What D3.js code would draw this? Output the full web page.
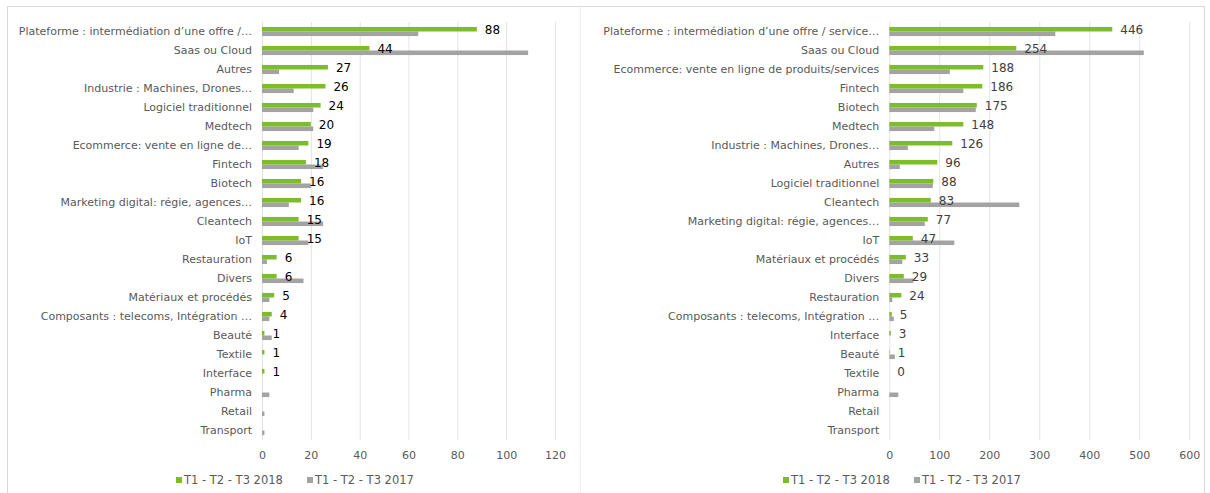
<!DOCTYPE html>
<html>
<head>
<meta charset="utf-8">
<script src="https://cdn.jsdelivr.net/npm/d3@7"></script>
<style>
  body { margin: 0; background: #fff; }
  svg text { font-family: "DejaVu Sans", Verdana, sans-serif; }
</style>
</head>
<body>
<svg id="chart" width="1210" height="493"></svg>
<script>
// left panel : counts
var catsLeft = ["Plateforme : intermédiation d’une offre /…", "Saas ou Cloud", "Autres",
  "Industrie : Machines, Drones…", "Logiciel traditionnel", "Medtech", "Ecommerce: vente en ligne de…",
  "Fintech", "Biotech", "Marketing digital: régie, agences…", "Cleantech", "IoT", "Restauration",
  "Divers", "Matériaux et procédés", "Composants : telecoms, Intégration …", "Beauté", "Textile",
  "Interface", "Pharma", "Retail", "Transport"]
var left2018 = [88, 44, 27, 26, 24, 20, 19, 18, 16, 16, 15, 15, 6, 6, 5, 4, 1, 1, 1, null, null, null]
var left2017 = [64, 109, 7, 13, 21, 21, 15, 25, 20, 11, 25, 19, 2, 17, 3, 3, 4, 0, 0, 3, 1, 1]
var ticksLeft = [0, 20, 40, 60, 80, 100, 120]

// right panel : amounts
var catsRight = ["Plateforme : intermédiation d’une offre / service…", "Saas ou Cloud",
  "Ecommerce: vente en ligne de produits/services", "Fintech", "Biotech", "Medtech",
  "Industrie : Machines, Drones…", "Autres", "Logiciel traditionnel", "Cleantech",
  "Marketing digital: régie, agences…", "IoT", "Matériaux et procédés", "Divers", "Restauration",
  "Composants : telecoms, Intégration …", "Interface", "Beauté", "Textile", "Pharma", "Retail", "Transport"]
var right2018 = [446, 254, 188, 186, 175, 148, 126, 96, 88, 83, 77, 47, 33, 29, 24, 5, 3, 1, 0, null, null, null]
var right2017 = [332, 509, 121, 148, 173, 90, 37, 21, 87, 260, 71, 130, 26, 48, 6, 9, 0, 11, 0, 18, 0, 0]
var ticksRight = [0, 100, 200, 300, 400, 500, 600]

var seriesNames = ["T1 - T2 - T3 2018", "T1 - T2 - T3 2017"]
var GREEN = "#7dbd2c", GREY = "#a3a3a3"

var svg = d3.select("#chart")

// frame
svg.append("rect").attr("x", 7.5).attr("y", 6.5).attr("width", 1197).attr("height", 495)
  .attr("fill", "none").attr("stroke", "#d9d9d9")
svg.append("line").attr("x1", 580.5).attr("x2", 580.5).attr("y1", 7).attr("y2", 493)
  .attr("stroke", "#f0f0f0")

function drawPanel(cats, s18, s17, ticks, x0, x1, labelColor, legendX) {
  var x = d3.scaleLinear().domain([0, ticks[ticks.length - 1]]).range([x0, x1])
  var y = d3.scaleBand().domain(cats).range([22, 440]).paddingInner(0.52).paddingOuter(0.26)
  var g = svg.append("g")

  // gridlines
  g.selectAll(".grid").data(ticks.slice(1)).enter().append("line")
    .attr("x1", function(d) { return x(d) + 0.5 }).attr("x2", function(d) { return x(d) + 0.5 })
    .attr("y1", 22).attr("y2", 440).attr("stroke", "#e3e3e3")
  g.append("line").attr("x1", x0 + 0.5).attr("x2", x0 + 0.5).attr("y1", 22).attr("y2", 440)
    .attr("stroke", "#e3e3e3")

  var bh = y.bandwidth() / 2
  g.selectAll(".b17").data(cats).enter().append("rect")
    .attr("x", x0).attr("y", function(d) { return y(d) + bh })
    .attr("width", function(d, i) { return x(s17[i] || 0) - x0 }).attr("height", bh)
    .attr("fill", GREY)
  g.selectAll(".b18").data(cats).enter().append("rect")
    .attr("x", x0).attr("y", function(d) { return y(d) })
    .attr("width", function(d, i) { return x(s18[i] || 0) - x0 }).attr("height", bh)
    .attr("fill", GREEN)

  // category labels
  g.selectAll(".cat").data(cats).enter().append("text")
    .attr("x", x0 - 10).attr("y", function(d) { return y(d) + bh })
    .attr("dy", "0.35em").attr("text-anchor", "end")
    .attr("font-size", "11px").attr("fill", "#595959")
    .text(function(d) { return d })

  // value labels on 2018 series
  g.selectAll(".val").data(cats).enter().append("text")
    .filter(function(d, i) { return s18[i] != null })
    .attr("x", function(d) { return x(s18[cats.indexOf(d)]) + 8 })
    .attr("y", function(d) { return y(d) + bh / 2 })
    .attr("dy", "0.38em").attr("font-size", "12px").attr("fill", labelColor)
    .text(function(d) { return s18[cats.indexOf(d)] })

  // x axis
  var axis = g.append("g").attr("transform", "translate(0,447)")
    .call(d3.axisBottom(x).tickValues(ticks).tickSize(0).tickPadding(4))
  axis.select(".domain").remove()
  axis.selectAll("text").attr("font-size", "11px").attr("fill", "#595959")
    .attr("font-family", "\"DejaVu Sans\", Verdana, sans-serif")

  // legend
  var lg = svg.append("g").attr("transform", "translate(" + legendX + ",480)")
  var offs = [0, 131]
  seriesNames.forEach(function(name, i) {
    lg.append("rect").attr("x", offs[i]).attr("y", -3).attr("width", 6).attr("height", 6)
      .attr("fill", i === 0 ? GREEN : GREY)
    lg.append("text").attr("x", offs[i] + 8).attr("y", 0).attr("dy", "0.35em")
      .attr("font-size", "11.5px").attr("fill", "#595959").text(name)
  })
}

drawPanel(catsLeft, left2018, left2017, ticksLeft, 262, 555, "#000", 176)
drawPanel(catsRight, right2018, right2017, ticksRight, 889.3, 1189.3, "#404040", 783)
</script>
</body>
</html>
